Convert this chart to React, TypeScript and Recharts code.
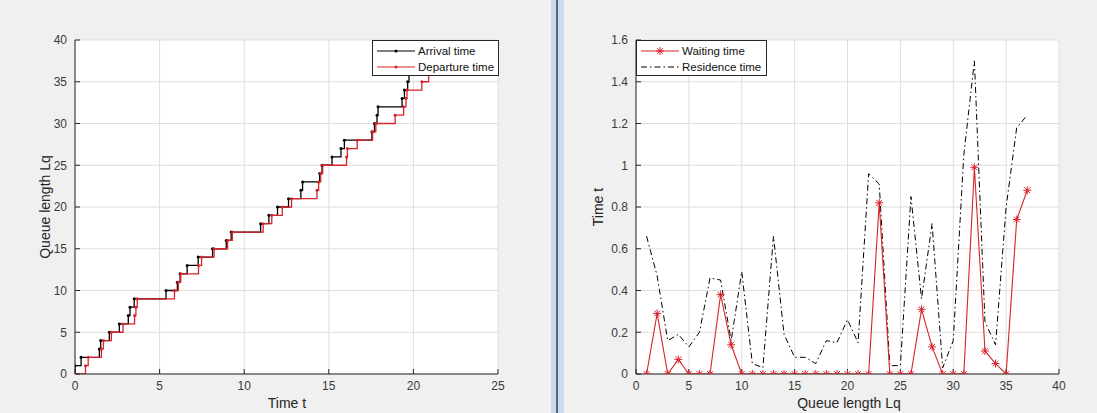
import React from "react";
import { LineChart, Line, XAxis, YAxis, CartesianGrid } from "recharts";

// left panel: arrival / departure instants for customers 1..37
const arrivalTimes = [
  0, 0.36, 1.44, 1.52, 2.03, 2.62, 3.15, 3.25, 3.5, 5.38, 6.05, 6.21, 6.63,
  7.28, 8.13, 8.94, 9.23, 10.97, 11.46, 11.97, 12.62, 13.35, 13.45, 14.46,
  14.6, 15.19, 15.72, 15.92, 17.55, 17.7, 17.85, 17.91, 19.33, 19.47, 19.66,
  19.74, 20.0,
];
const departureTimes = [
  0.62, 0.78, 1.56, 1.68, 2.15, 2.84, 3.52, 3.6, 3.68, 5.88, 6.11, 6.25, 7.3,
  7.48, 8.22, 9.02, 9.3, 11.12, 11.63, 12.25, 12.8, 14.3, 14.4, 14.52, 14.64,
  16.05, 16.1, 16.68, 17.59, 17.78, 18.92, 19.42, 19.56, 19.62, 20.5, 20.9,
  21.9,
];

// right panel: per-customer times
const waitingTimes = [
  0, 0.29, 0, 0.07, 0, 0, 0, 0.38, 0.14, 0, 0, 0, 0, 0, 0, 0, 0, 0, 0, 0, 0, 0,
  0.82, 0, 0, 0, 0.31, 0.13, 0, 0, 0, 0.99, 0.11, 0.05, 0, 0.74, 0.88,
];
const residenceTimes = [
  0.66, 0.47, 0.16, 0.19, 0.13, 0.2, 0.46, 0.45, 0.16, 0.49, 0.05, 0.03, 0.66,
  0.19, 0.08, 0.08, 0.05, 0.16, 0.15, 0.26, 0.15, 0.96, 0.91, 0.04, 0.04, 0.85,
  0.36, 0.72, 0.03, 0.16, 1.05, 1.5, 0.25, 0.14, 0.8, 1.18, 1.24,
];

const leftXTicks = [0, 5, 10, 15, 20, 25];
const leftYTicks = [0, 5, 10, 15, 20, 25, 30, 35, 40];
const rightXTicks = [0, 5, 10, 15, 20, 25, 30, 35, 40];
const rightYTicks = [0, 0.2, 0.4, 0.6, 0.8, 1, 1.2, 1.4, 1.6];

const AXIS = "#262626";
const GRID = "#dedede";
const TICK_TEXT = "#3a3a3a";
const RED = "#d8232a";
const FONT = "'Liberation Sans', Arial, sans-serif";

const arrivalSteps = [{ t: 0, n: 0 }, ...arrivalTimes.map((t, i) => ({ t, n: i + 1 }))];
const departureSteps = [{ t: 0, n: 0 }, ...departureTimes.map((t, i) => ({ t, n: i + 1 }))];
const timesByCustomer = waitingTimes.map((w, i) => ({
  k: i + 1,
  w,
  r: residenceTimes[i],
}));

const blankTick = () => <g />;
const tickStyle = { fontSize: 12, fill: TICK_TEXT, fontFamily: FONT };

function Star(props: any) {
  const { cx, cy, index } = props;
  if (cx == null || cy == null) return <g key={index} />;
  const s = 4;
  const d = s * 0.72;
  return (
    <g key={index} stroke={RED} strokeWidth={1}>
      <line x1={cx - s} y1={cy} x2={cx + s} y2={cy} />
      <line x1={cx} y1={cy - s} x2={cx} y2={cy + s} />
      <line x1={cx - d} y1={cy - d} x2={cx + d} y2={cy + d} />
      <line x1={cx - d} y1={cy + d} x2={cx + d} y2={cy - d} />
    </g>
  );
}

function LegendBox({
  left,
  width,
  rows,
}: {
  left: number;
  width: number;
  rows: { label: string; sample: React.ReactNode }[];
}) {
  return (
    <div
      style={{
        position: "absolute",
        left,
        top: 40,
        width,
        height: 36,
        background: "#fff",
        border: `1px solid ${AXIS}`,
        boxSizing: "border-box",
        fontFamily: FONT,
        fontSize: 11.5,
        color: "#111",
      }}
    >
      {rows.map((row, i) => (
        <div
          key={row.label}
          style={{
            position: "absolute",
            left: 2,
            top: 2 + i * 16,
            height: 16,
            display: "flex",
            alignItems: "center",
            whiteSpace: "nowrap",
          }}
        >
          <svg width={43} height={16}>
            {row.sample}
          </svg>
          <span>{row.label}</span>
        </div>
      ))}
    </div>
  );
}

const axisTitle: React.CSSProperties = {
  position: "absolute",
  fontFamily: FONT,
  fontSize: 14,
  color: "#262626",
  whiteSpace: "nowrap",
  lineHeight: "15px",
};

export default function App() {
  return (
    <div
      style={{
        position: "absolute",
        left: 0,
        top: 0,
        width: 1097,
        height: 413,
        overflow: "hidden",
        background: "#f0f0f0",
      }}
    >
      {/* splitter between the two figure panels */}
      <div style={{ position: "absolute", left: 551, top: 0, width: 13, height: 413, background: "#c8dbef" }} />
      <div style={{ position: "absolute", left: 556, top: 0, width: 2, height: 413, background: "#5d6570" }} />

      <div style={{ position: "absolute", left: 0, top: 0 }}>
        <LineChart width={540} height={413} margin={{ top: 40, right: 42, bottom: 19, left: 40 }}>
          <CartesianGrid stroke={GRID} fill="#fff" />
          <XAxis
            dataKey="t"
            type="number"
            domain={[0, 25]}
            ticks={leftXTicks}
            interval={0}
            allowDataOverflow
            height={20}
            tickSize={-5}
            tickMargin={12}
            stroke={AXIS}
            tick={tickStyle}
          />
          <XAxis xAxisId="top" orientation="top" type="number" domain={[0, 25]} ticks={leftXTicks} interval={0} height={0} tickSize={-5} stroke={AXIS} tick={blankTick} />
          <YAxis
            type="number"
            domain={[0, 40]}
            ticks={leftYTicks}
            interval={0}
            allowDataOverflow
            width={35}
            tickSize={-5}
            tickMargin={13}
            stroke={AXIS}
            tick={tickStyle}
          />
          <YAxis yAxisId="mirror" orientation="right" type="number" domain={[0, 40]} ticks={leftYTicks} interval={0} width={0} tickSize={-5} stroke={AXIS} tick={blankTick} />
          <Line
            data={arrivalSteps}
            dataKey="n"
            type="stepAfter"
            stroke="#000"
            strokeWidth={1.3}
            dot={{ r: 1.5, fill: "#000", stroke: "#000", strokeWidth: 0 }}
            isAnimationActive={false}
          />
          <Line
            data={departureSteps}
            dataKey="n"
            type="stepAfter"
            stroke={RED}
            strokeWidth={1.3}
            dot={{ r: 1.5, fill: RED, stroke: RED, strokeWidth: 0 }}
            isAnimationActive={false}
          />
        </LineChart>
      </div>

      <div style={{ position: "absolute", left: 560, top: 0 }}>
        <LineChart width={537} height={413} data={timesByCustomer} margin={{ top: 40, right: 38, bottom: 19, left: 36 }}>
          <CartesianGrid stroke={GRID} fill="#fff" />
          <XAxis
            dataKey="k"
            type="number"
            domain={[0, 40]}
            ticks={rightXTicks}
            interval={0}
            allowDataOverflow
            height={20}
            tickSize={-5}
            tickMargin={12}
            stroke={AXIS}
            tick={tickStyle}
          />
          <XAxis xAxisId="top" orientation="top" type="number" domain={[0, 40]} ticks={rightXTicks} interval={0} height={0} tickSize={-5} stroke={AXIS} tick={blankTick} />
          <YAxis
            type="number"
            domain={[0, 1.6]}
            ticks={rightYTicks}
            interval={0}
            allowDataOverflow
            width={40}
            tickSize={-5}
            tickMargin={13}
            stroke={AXIS}
            tick={tickStyle}
          />
          <YAxis yAxisId="mirror" orientation="right" type="number" domain={[0, 1.6]} ticks={rightYTicks} interval={0} width={0} tickSize={-5} stroke={AXIS} tick={blankTick} />
          <Line
            dataKey="r"
            type="linear"
            stroke="#000"
            strokeWidth={1}
            strokeDasharray="6 3 1.5 3"
            dot={false}
            isAnimationActive={false}
          />
          <Line
            dataKey="w"
            type="linear"
            stroke={RED}
            strokeWidth={1.1}
            dot={<Star />}
            isAnimationActive={false}
          />
        </LineChart>
      </div>

      <LegendBox
        left={372}
        width={127}
        rows={[
          {
            label: "Arrival time",
            sample: (
              <g>
                <line x1={2} y1={8} x2={40} y2={8} stroke="#000" strokeWidth={1.2} />
                <circle cx={21} cy={8} r={1.5} fill="#000" />
              </g>
            ),
          },
          {
            label: "Departure time",
            sample: (
              <g>
                <line x1={2} y1={8} x2={40} y2={8} stroke={RED} strokeWidth={1.2} />
                <circle cx={21} cy={8} r={1.5} fill={RED} />
              </g>
            ),
          },
        ]}
      />
      <LegendBox
        left={636}
        width={131}
        rows={[
          {
            label: "Waiting time",
            sample: (
              <g>
                <line x1={2} y1={8} x2={40} y2={8} stroke={RED} strokeWidth={1.1} />
                <Star cx={21} cy={8} index={0} />
              </g>
            ),
          },
          {
            label: "Residence time",
            sample: <line x1={2} y1={8} x2={40} y2={8} stroke="#000" strokeWidth={1} strokeDasharray="6 3 1.5 3" />,
          },
        ]}
      />

      <div style={{ ...axisTitle, left: 45, top: 207, transform: "translate(-50%, -50%) rotate(-90deg)" }}>
        Queue length Lq
      </div>
      <div style={{ ...axisTitle, left: 287, top: 396, transform: "translateX(-50%)" }}>Time t</div>
      <div style={{ ...axisTitle, left: 598, top: 207, transform: "translate(-50%, -50%) rotate(-90deg)" }}>
        Time t
      </div>
      <div style={{ ...axisTitle, left: 849, top: 396, transform: "translateX(-50%)" }}>Queue length Lq</div>
    </div>
  );
}
